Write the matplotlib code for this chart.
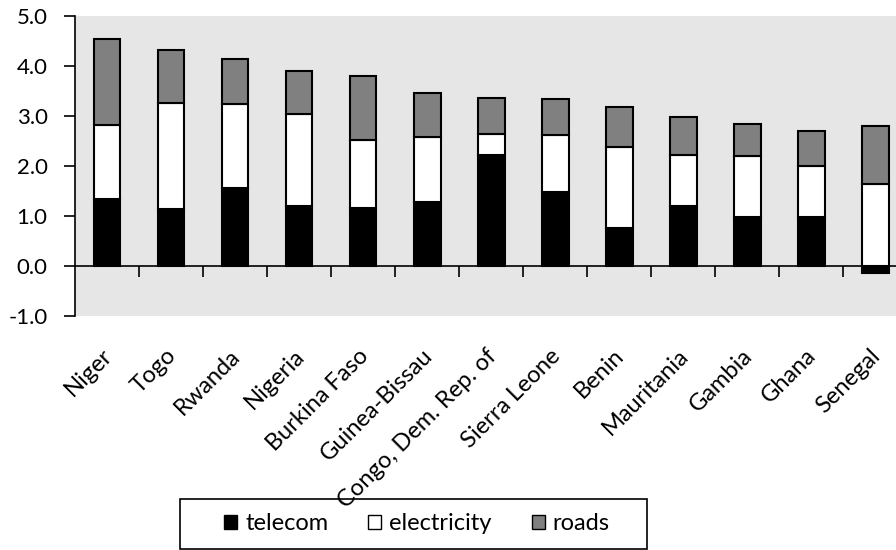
import numpy as np
import matplotlib.pyplot as plt
from matplotlib.patches import Patch, Rectangle
import matplotlib.transforms as mtransforms

plt.rcParams['font.family'] = ['Lato', 'DejaVu Sans']

countries = ['Niger', 'Togo', 'Rwanda', 'Nigeria', 'Burkina Faso', 'Guinea-Bissau',
             'Congo, Dem. Rep. of', 'Sierra Leone', 'Benin', 'Mauritania', 'Gambia',
             'Ghana', 'Senegal']
telecom = [1.33, 1.13, 1.56, 1.20, 1.16, 1.28, 2.22, 1.48, 0.76, 1.20, 0.97, 0.98, -0.15]
electricity = [1.48, 2.12, 1.67, 1.83, 1.36, 1.30, 0.42, 1.14, 1.62, 1.02, 1.23, 1.02, 1.64]
roads = [1.73, 1.06, 0.90, 0.87, 1.27, 0.88, 0.71, 0.72, 0.79, 0.76, 0.63, 0.70, 1.15]
yticks = [-1.0, 0.0, 1.0, 2.0, 3.0, 4.0, 5.0]

x = np.arange(len(countries))
tel = np.array(telecom)
ele = np.array(electricity)
rd = np.array(roads)
# positive segments stack from zero, negative telecom hangs below
base_e = np.clip(tel, 0, None)
base_r = base_e + ele

fs = 16

fig = plt.figure(figsize=(8.96, 5.5), dpi=100)
ax = fig.add_axes([75.3 / 896, 1 - 316 / 550, (907.5 - 75.3) / 896, (316 - 15.7) / 550])
ax.set_zorder(3)
ax.set_facecolor('#e6e6e6')

w = 0.41
kw = dict(width=w, edgecolor='black', linewidth=1.5, zorder=3)
ax.bar(x, tel, color='black', **kw)
ax.bar(x, ele, bottom=base_e, color='white', **kw)
ax.bar(x, rd, bottom=base_r, color='#808080', **kw)

ax.set_xlim(-0.5, len(countries) - 0.5)
ax.set_ylim(-1, 5)
ax.set_yticks(yticks)
ax.set_yticklabels(['%.1f' % v for v in yticks], fontsize=fs)
ax.tick_params(axis='y', length=8, width=1.2, direction='out', pad=12)

ax.spines['top'].set_visible(False)
ax.spines['right'].set_visible(False)
ax.spines['left'].set_linewidth(1.2)
ax.spines['bottom'].set_position(('data', 0))
ax.spines['bottom'].set_linewidth(1.2)
ax.spines['bottom'].set_zorder(4)
ax.set_xticks(np.arange(len(countries)) + 0.5)
ax.set_xticklabels([])
ax.tick_params(axis='x', length=8, width=1.2, direction='out')

# category labels sit below the plot area
trans = mtransforms.blended_transform_factory(ax.transData, ax.transAxes)
off = mtransforms.ScaledTranslation(-6 / 100, -29 / 100, fig.dpi_scale_trans)
for i, name in enumerate(countries):
    ax.text(i, 0, name, transform=trans + off, rotation=45, rotation_mode='anchor',
            ha='right', va='top', fontsize=17, zorder=5)

# legend box drawn by hand to get Excel's wide side padding
fig.patches.append(Rectangle((180 / 896, 1 - 549 / 550), 467 / 896, 50 / 550,
                             transform=fig.transFigure, facecolor='white',
                             edgecolor='black', linewidth=1.2, zorder=1))
handles = [Patch(facecolor='black', edgecolor='black', label='telecom'),
           Patch(facecolor='white', edgecolor='black', label='electricity'),
           Patch(facecolor='#808080', edgecolor='black', label='roads')]
leg = fig.legend(handles=handles, loc='center', bbox_to_anchor=(417 / 896, 1 - 524 / 550),
                 ncol=3, fontsize=17, frameon=False,
                 handlelength=0.55, handleheight=0.55, handletextpad=0.33,
                 columnspacing=1.7, borderpad=0.55, borderaxespad=0)
leg.set_zorder(2)

fig.savefig('out.png', dpi=100)
